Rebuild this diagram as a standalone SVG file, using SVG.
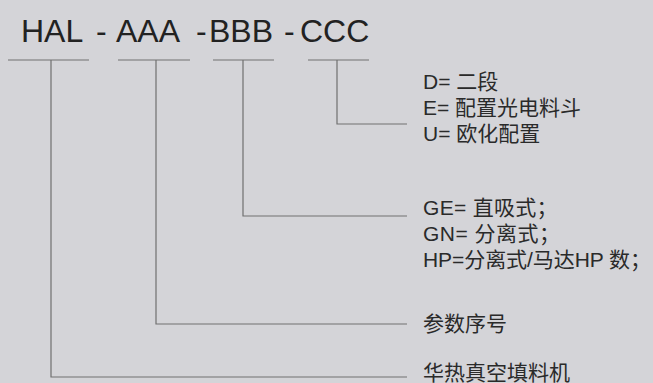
<svg xmlns="http://www.w3.org/2000/svg" width="653" height="383" viewBox="0 0 653 383">
  <style>
    .title { font-family: "Liberation Sans", Arial, sans-serif; font-size: 32px; fill: #222; }
    .lbl { font-family: "Liberation Sans", "Noto Sans CJK SC", sans-serif; font-size: 21px; fill: #2a2a2a; }
    .ln { stroke: #707070; stroke-width: 1.2; fill: none; }
  </style>
  <rect width="653" height="383" fill="#d4d4d8"/>
  <g id="code">
    <text class="title" x="21" y="42">HAL</text>
    <text class="title" x="96" y="42">-</text>
    <text class="title" x="116" y="42">AAA</text>
    <text class="title" x="196" y="42">-</text>
    <text class="title" x="209" y="42">BBB</text>
    <text class="title" x="284" y="42">-</text>
    <text class="title" x="300" y="42">CCC</text>
  </g>
  <g id="connectors">
    <path class="ln" d="M8 60H89M51 60V377H407"/>
    <path class="ln" d="M118 60H190M156 60V324H407"/>
    <path class="ln" d="M213 60H274M243 60V216H407"/>
    <path class="ln" d="M308 60H369M337 60V124H407"/>
  </g>
  <g id="ccc-options">
    <text class="lbl" x="423" y="89">D= 二段</text>
    <text class="lbl" x="423" y="115">E= 配置光电料斗</text>
    <text class="lbl" x="423" y="141">U= 欧化配置</text>
  </g>
  <g id="bbb-options">
    <text class="lbl" x="423" y="215" letter-spacing="0.3">GE= 直吸式；</text>
    <text class="lbl" x="423" y="241" letter-spacing="0.5">GN= 分离式；</text>
    <text class="lbl" x="423" y="267" textLength="228" lengthAdjust="spacing">HP=分离式/马达HP 数；</text>
  </g>
  <g id="aaa-label">
    <text class="lbl" x="423" y="331">参数序号</text>
  </g>
  <g id="hal-label">
    <text class="lbl" x="423" y="380">华热真空填料机</text>
  </g>
</svg>
